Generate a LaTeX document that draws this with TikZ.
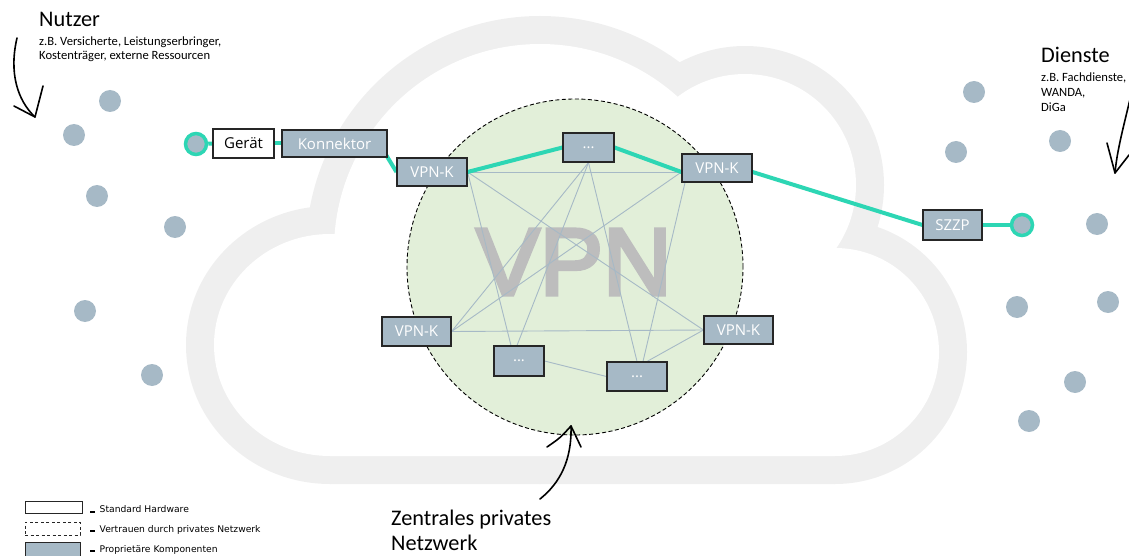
\documentclass[tikz,border=0pt]{standalone}
\usepackage{fontspec}
\setmainfont{Carlito}
\newfontfamily\boxfont{Open Sans}
\newfontfamily\legfont{DejaVu Sans}
\newfontfamily\vpnfont[FakeBold=4]{Liberation Sans}
\usetikzlibrary{calc}
\pgfdeclarelayer{back}
\pgfdeclarelayer{wires}
\pgfsetlayers{back,wires,main}
\definecolor{tealc}{RGB}{45,214,180}
\definecolor{compc}{RGB}{166,185,198}
\definecolor{greenc}{RGB}{226,239,217}
\definecolor{cloudc}{RGB}{239,239,239}
\begin{document}
\begin{tikzpicture}[x=1pt,y=-1pt,
  compbox/.style={draw=black!85,line width=1.1pt,fill=compc,text=white,font=\boxfont\fontsize{15}{18}\selectfont,inner sep=0pt},
  hwbox/.style={draw=black!85,line width=1.1pt,fill=white,text=black,font=\boxfont\fontsize{15}{18}\selectfont,inner sep=0pt},
  ringdot/.style={circle,fill=compc,draw=tealc,line width=3.5pt,minimum size=21pt,inner sep=0pt},
  tealline/.style={draw=tealc,line width=4pt},
  meshline/.style={draw=compc,line width=0.9pt},
  dotfill/.style={fill=compc},
  hand/.style={draw=black,line width=1.6pt,line cap=round,line join=round},
  anno/.style={anchor=base west,inner sep=0pt,font=\fontsize{12.6}{15}\selectfont},
  titletext/.style={anchor=base west,inner sep=0pt,font=\fontsize{22.3}{26}\selectfont},
  legtext/.style={anchor=base west,inner sep=0pt,font=\legfont\fontsize{9.2}{11}\selectfont},
]
\useasboundingbox (0,0) rectangle (1129,556);

% cloud
\begin{pgfonlayer}{back}
\fill[cloudc] (330,345) ellipse[x radius=144pt,y radius=139pt];
\fill[cloudc] (540,250) circle[radius=234pt];
\fill[cloudc] (745,185) circle[radius=139pt];
\fill[cloudc] (835,352) circle[radius=132pt];
\fill[cloudc] (330,345) -- (540,250) -- (745,185) -- (835,352) -- (835,484) -- (330,484) -- cycle;
\fill[white] (330,345) ellipse[x radius=116pt,y radius=111pt];
\fill[white] (540,250) circle[radius=206pt];
\fill[white] (745,185) circle[radius=111pt];
\fill[white] (835,352) circle[radius=104pt];
\fill[white] (330,345) -- (540,250) -- (745,185) -- (835,352) -- (835,456) -- (330,456) -- cycle;
\node[circle,minimum size=336pt,inner sep=0pt,fill=greenc,draw=black,line width=0.9pt,dash pattern=on 4pt off 2.5pt] (vpnarea) at (575,267) {};
\node[inner sep=0pt,font=\vpnfont\fontsize{95}{95}\selectfont,text=black!26] (vpntext) at (574,262) {VPN};
\end{pgfonlayer}

% dots
\foreach \p in {(110,101),(74,135),(97,196),(175,227),(85,311),(152,375),
  (974,92),(956,152),(1060,141),(1097,224),(1017,307),(1108,302),(1075,382),(1029,421)}
  \fill[dotfill] \p circle[radius=11pt];

% nodes
\node[ringdot] (ul) at (196,144) {};
\node[hwbox,minimum width=61pt,minimum height=29pt] (geraet) at (243.5,143.5) {Gerät};
\node[compbox,minimum width=105pt,minimum height=27pt] (kon) at (334.5,143.5) {Konnektor};
\node[compbox,minimum width=70pt,minimum height=28pt] (k1) at (432,172) {VPN-K};
\node[compbox,minimum width=51pt,minimum height=29pt] (t) at (588.5,147.5) {...};
\node[compbox,minimum width=70pt,minimum height=28pt] (k2) at (717,168) {VPN-K};
\node[compbox,minimum width=69pt,minimum height=29pt] (k3) at (416.5,331.5) {VPN-K};
\node[compbox,minimum width=69pt,minimum height=28pt] (k4) at (738.5,330) {VPN-K};
\node[compbox,minimum width=50pt,minimum height=30pt] (bl) at (519,361) {...};
\node[compbox,minimum width=60pt,minimum height=29pt] (br) at (637,376.5) {...};
\node[compbox,minimum width=59pt,minimum height=30pt] (szzp) at (952.5,225) {SZZP};
\node[ringdot] (ur) at (1022,225) {};

% wires
\begin{pgfonlayer}{wires}
\draw[meshline] (k1.east) -- ([yshift=-4pt]k2.west);
\draw[meshline] (k1.east) -- (k4.west);
\draw[meshline] (k1.east) -- ([xshift=-8pt]bl.north);
\draw[meshline] (t.south) -- (k3.east);
\draw[meshline] (t.south) -- ([xshift=-2pt]bl.north);
\draw[meshline] (t.south) -- (br.north);
\draw[meshline] ([yshift=-4pt]k2.west) -- (k3.east);
\draw[meshline] ([xshift=-32pt]k2.south) -- ([xshift=6pt]br.north);
\draw[meshline] (k3.east) -- (k4.west);
\draw[meshline] (k4.west) -- ([xshift=10pt]br.north);
\draw[meshline] (bl.east) -- (br.west);
\draw[tealline] (ul) -- (geraet.west);
\draw[tealline] (geraet.east) -- (kon.west);
\draw[tealline] ([xshift=-9pt,yshift=1pt]kon.east) -- (k1.west);
\draw[tealline] (k1.east) -- (t.west);
\draw[tealline] (t.east) -- ([yshift=-4pt]k2.west);
\draw[tealline] ([yshift=-4pt]k2.east) -- (szzp.west);
\draw[tealline] (szzp.east) -- (ur);
\end{pgfonlayer}

% annotations
\node[titletext] (nutzer) at (39,27) {Nutzer};
\node[anno] (nutzer1) at (39,46) {z.B. Versicherte, Leistungserbringer,};
\node[anno] (nutzer2) at (39,60) {Kostenträger, externe Ressourcen};
\node[titletext] (dienste) at (1041,63) {Dienste};
\node[anno] (dienste1) at (1041,82) {z.B. Fachdienste,};
\node[anno] (dienste2) at (1041,97) {WANDA,};
\node[anno] (dienste3) at (1041,112) {DiGa};
\node[titletext] (zpn1) at (391,525) {Zentrales privates};
\node[titletext] (zpn2) at (391,550) {Netzwerk};

% hand arrows
\coordinate (na0) at (17,38);
\coordinate (na1) at (35,117);
\draw[hand] (na0) .. controls (9,72) and (17,100) .. (na1);
\draw[hand] (14,106) -- (na1) -- (43,86);
\coordinate (da0) at (1131,95);
\coordinate (da1) at (1115,173);
\draw[hand] (da0) .. controls (1124,125) and (1117,150) .. (da1);
\draw[hand] (1107,143) -- (da1) -- (1129,155);
\coordinate (za0) at (540,499);
\coordinate (za1) at (571,426);
\draw[hand] (za0) .. controls (560,483) and (572,460) .. (za1);
\draw[hand] (547,447) .. controls (560,438) .. (za1) -- (581,447);

% legend
\node[draw=black!85,line width=1pt,fill=white,minimum width=57pt,minimum height=12pt,inner sep=0pt] (lg1) at (53.5,507) {};
\node[draw=black!85,line width=1pt,dash pattern=on 3pt off 2.5pt,fill=white,minimum width=55pt,minimum height=13pt,inner sep=0pt] (lg2) at (52.5,528.5) {};
\node[draw=black!85,line width=1pt,fill=compc,minimum width=55pt,minimum height=15pt,inner sep=0pt] (lg3) at (52.5,549.5) {};
\node[legtext] (lt1) at (90,512.5) {\rule{5pt}{2pt}\hspace{4.5pt}Standard Hardware};
\node[legtext] (lt2) at (90,532) {\rule{5pt}{2pt}\hspace{4.5pt}Vertrauen durch privates Netzwerk};
\node[legtext] (lt3) at (90,552) {\rule{5pt}{2pt}\hspace{4.5pt}Proprietäre Komponenten};
\end{tikzpicture}
\end{document}
